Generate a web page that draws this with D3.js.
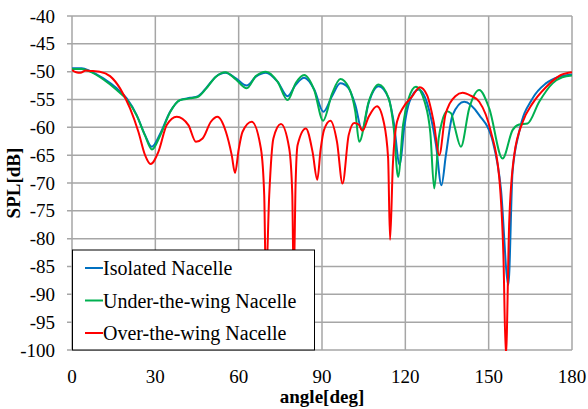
<!DOCTYPE html>
<html>
<head>
<meta charset="utf-8">
<script src="https://cdn.jsdelivr.net/npm/d3@7"></script>
<style>
  body { margin: 0; background: #fff; }
</style>
</head>
<body>
<div id="chart"></div>
<script>
// angle [deg] and SPL [dB]
var isoAngle = [0, 3.5, 6.5, 11.3, 16.1, 19.7, 23.3, 26.3, 28.7, 31.7, 35.3, 38.9, 42.5, 45.4, 48.2, 51.8, 55.2, 59, 62.9, 66.2, 69.8, 74, 77.6, 80.6, 83.6, 87.2, 90.5, 93.6, 96.6, 99.6, 102, 104.4, 106.8, 110.4, 114, 115.8, 118, 119.6, 121.5, 124.8, 128.4, 131, 133, 134.6, 137, 141.2, 146.6, 151.5, 154.4, 157.1, 158.6, 161, 165.8, 170.6, 175.4, 180]
var isoSPL = [-49.4, -49.4, -49.9, -51.2, -53.0, -54.8, -57.8, -61.4, -63.5, -61.2, -57.2, -55.1, -54.7, -54.4, -53.0, -50.9, -50.2, -51.2, -52.5, -50.9, -50.2, -51.8, -54.4, -52.3, -51.1, -53.2, -57.2, -54.4, -52.1, -53.0, -56, -60.5, -55.6, -52.6, -54.8, -59, -66.8, -60, -55.4, -53.2, -56.6, -63, -70.4, -65, -57.8, -55.4, -57.8, -62.6, -71, -88.3, -68, -60.8, -54.8, -52.1, -50.9, -50.5]

var utwAngle = [0, 3.5, 6.5, 11.3, 16.1, 19.7, 23.3, 26.3, 28.8, 31.7, 35.3, 38.9, 42.5, 45.4, 48.2, 51.8, 55.2, 59, 62.9, 66.2, 69.8, 74, 77.6, 80.6, 83.6, 87.2, 90.4, 93.6, 96.6, 99.6, 102, 103.4, 106.8, 110.4, 114, 115.8, 117.4, 119.2, 121.2, 123.8, 127, 129, 130.4, 132, 133.2, 135, 136.5, 137.8, 140, 143, 146.6, 150.2, 155, 158.6, 161, 164, 168.2, 173, 176.5, 180]
var utwSPL = [-49.5, -49.5, -50.0, -51.4, -53.3, -55.0, -57.9, -61.5, -64.0, -61.5, -57.3, -55.1, -54.8, -54.5, -53.1, -50.9, -50.1, -51.4, -53.0, -50.8, -50.0, -51.8, -55.1, -52.0, -50.6, -53.3, -58.8, -54.0, -51.3, -52.8, -57.2, -62.6, -55.4, -52.3, -54.8, -60, -68.9, -59.5, -54.8, -52.7, -55.5, -61, -71, -62, -59, -57.1, -57.5, -60, -63.5, -56.6, -53.3, -56.6, -65.6, -60.5, -59.5, -59.3, -55.4, -52.1, -51, -50.7]

var otwAngle = [0, 1.5, 3, 5, 7.5, 10, 13.7, 17.3, 20.9, 23.9, 26.3, 28.3, 31.1, 34.1, 37.7, 41.9, 44.6, 47, 50, 52.4, 55.4, 57.5, 58.7, 60, 61.4, 64.7, 68, 69.2, 69.8, 71, 72.5, 75.2, 78.2, 79.3, 79.8, 80.5, 81.2, 84.2, 86.6, 88.3, 89.5, 90.7, 93, 95.4, 97.4, 99.6, 101.6, 103.2, 104.6, 106.8, 109.8, 112.2, 113.8, 114.5, 115.5, 117, 119.4, 122.4, 125.2, 127.8, 130.2, 132.2, 134.4, 136, 138, 140.6, 143.5, 146.6, 150.8, 153.8, 155.3, 156.2, 157.4, 159.2, 162.3, 165.8, 170.6, 176, 180]
var otwSPL = [-49.7, -50.1, -50.2, -49.8, -49.9, -50.0, -50.8, -53, -56.6, -60.8, -65, -66.6, -64.4, -59.6, -58.1, -59.6, -62.6, -62, -59, -58.1, -60.8, -65, -68.2, -64, -60.8, -59, -63.8, -72.2, -88, -72.2, -62, -59.4, -63.8, -72, -88, -70, -63.2, -60.2, -64.4, -69.4, -64, -60.5, -58.8, -62.6, -70.1, -61.4, -59.2, -59.5, -60.6, -58.1, -56.2, -59, -65.5, -80.2, -66.8, -59, -56.3, -54.5, -52.8, -54.2, -59, -65, -57.8, -55.7, -54.4, -53.8, -54.3, -55.4, -60.8, -69, -82.9, -101, -77, -65, -59, -55.7, -52.8, -50.6, -50.1]

var seriesNames = ['Isolated Nacelle', 'Under-the-wing Nacelle', 'Over-the-wing Nacelle']
var seriesColors = ['#0070C0', '#00B050', '#FF0000']
var xTicks = [0, 30, 60, 90, 120, 150, 180]
var yTicks = [-40, -45, -50, -55, -60, -65, -70, -75, -80, -85, -90, -95, -100]

var margin = {top: 16, right: 16, bottom: 59, left: 72},
    width = 588 - margin.left - margin.right,
    height = 409 - margin.top - margin.bottom;

var svg = d3.select('#chart')
  .append('svg')
    .attr('width', 588)
    .attr('height', 409)
    .style('font-family', '"Liberation Serif", "Times New Roman", Times, serif')
  .append('g')
    .attr('transform', 'translate(' + margin.left + ',' + margin.top + ')');

var x = d3.scaleLinear().domain([0, 180]).range([0, width])
var y = d3.scaleLinear().domain([-100, -40]).range([height, 0])

// grid
svg.append('g')
  .selectAll('line')
  .data(yTicks)
  .enter()
  .append('line')
    .attr('x1', -5).attr('x2', width)
    .attr('y1', d => y(d)).attr('y2', d => y(d))
    .attr('stroke', '#a6a6a6')
    .attr('stroke-width', 1.5)

svg.append('g')
  .selectAll('line')
  .data(xTicks)
  .enter()
  .append('line')
    .attr('x1', d => x(d)).attr('x2', d => x(d))
    .attr('y1', 0).attr('y2', height)
    .attr('stroke', '#a6a6a6')
    .attr('stroke-width', 1.5)

// tick labels
svg.append('g')
  .selectAll('text')
  .data(yTicks)
  .enter()
  .append('text')
    .attr('x', -17)
    .attr('y', d => y(d))
    .attr('dy', '0.35em')
    .attr('text-anchor', 'end')
    .style('font-size', '19px')
    .text(d => d)

svg.append('g')
  .selectAll('text')
  .data(xTicks)
  .enter()
  .append('text')
    .attr('x', d => x(d))
    .attr('y', height + 33)
    .attr('text-anchor', 'middle')
    .style('font-size', '19px')
    .text(d => d)

// axis titles
svg.append('text')
  .attr('text-anchor', 'middle')
  .attr('x', width / 2)
  .attr('y', height + 53)
  .style('font-size', '19px')
  .style('font-weight', 'bold')
  .text('angle[deg]')

svg.append('text')
  .attr('text-anchor', 'middle')
  .attr('transform', 'translate(' + (-52) + ',' + (height / 2) + ') rotate(-90)')
  .style('font-size', '19px')
  .style('font-weight', 'bold')
  .text('SPL[dB]')

// curves
svg.append('clipPath').attr('id', 'clip')
  .append('rect').attr('width', width).attr('height', height + 1)

var angles = [isoAngle, utwAngle, otwAngle]
var values = [isoSPL, utwSPL, otwSPL]

var line = d3.line()
  .x(d => x(d[0]))
  .y(d => y(d[1]))
  .curve(d3.curveMonotoneX)

for (var i = 0; i < 3; i++) {
  var pts = angles[i].map((a, j) => [a, values[i][j]])
  svg.append('path')
    .datum(pts)
    .attr('clip-path', 'url(#clip)')
    .attr('fill', 'none')
    .attr('stroke', seriesColors[i])
    .attr('stroke-width', 2)
    .attr('d', line)
}

// legend
var legend = svg.append('g')
  .attr('transform', 'translate(0,' + (height - 100) + ')')

legend.append('rect')
  .attr('x', 0.5).attr('y', 0)
  .attr('width', 242).attr('height', 100)
  .attr('fill', 'white')
  .attr('stroke', 'black')
  .attr('stroke-width', 1)

seriesNames.forEach(function(name, i) {
  var ly = 18 + i * 32.5
  legend.append('line')
    .attr('x1', 13).attr('x2', 31)
    .attr('y1', ly).attr('y2', ly)
    .attr('stroke', seriesColors[i])
    .attr('stroke-width', 2)
  legend.append('text')
    .attr('x', 31)
    .attr('y', ly)
    .attr('dy', '0.35em')
    .style('font-size', '20px')
    .text(name)
})
</script>
</body>
</html>
